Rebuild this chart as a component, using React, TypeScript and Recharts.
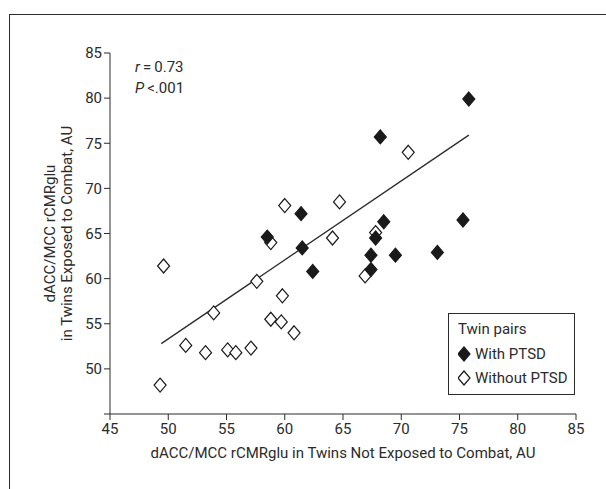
import React from "react";
import {
  ComposedChart,
  Scatter,
  XAxis,
  YAxis,
  ReferenceLine,
  Label,
  Customized,
} from "recharts";

// twin pairs with PTSD (filled diamonds)
const withPtsdX = [75.8, 68.2, 61.4, 58.5, 61.5, 62.4, 68.5, 67.8, 67.4, 67.4, 69.5, 73.1, 75.3];
const withPtsdY = [79.9, 75.7, 67.2, 64.6, 63.4, 60.8, 66.3, 64.5, 62.6, 61.0, 62.6, 62.9, 66.5];

// twin pairs without PTSD (open diamonds)
const withoutPtsdX = [49.6, 49.3, 51.5, 53.2, 53.9, 55.1, 55.8, 57.1, 57.6, 58.8, 58.8, 59.7, 59.8, 60.0, 60.8, 64.1, 64.7, 66.9, 70.6, 67.8];
const withoutPtsdY = [61.4, 48.2, 52.6, 51.8, 56.2, 52.1, 51.8, 52.3, 59.7, 64.0, 55.5, 55.2, 58.1, 68.1, 54.0, 64.5, 68.5, 60.3, 74.0, 65.1];

// regression line end points
const fitX = [49.4, 75.8];
const fitY = [52.8, 75.9];

const xTicks = [45, 50, 55, 60, 65, 70, 75, 80, 85];
const yTicks = [45, 50, 55, 60, 65, 70, 75, 80, 85];

const FONT = "Roboto, 'Liberation Sans', sans-serif";
const INK = "#2b2b2b";

const withData = withPtsdX.map((x, i) => ({ x, y: withPtsdY[i] }));
const withoutData = withoutPtsdX.map((x, i) => ({ x, y: withoutPtsdY[i] }));
const fitSegment = fitX.map((x, i) => ({ x, y: fitY[i] }));

function Diamond({ cx, cy, filled }: any) {
  const w = 6;
  const h = 7;
  return (
    <polygon
      points={`${cx},${cy - h} ${cx + w},${cy} ${cx},${cy + h} ${cx - w},${cy}`}
      fill={filled ? "#1a1a1a" : "#fff"}
      stroke="#1a1a1a"
      strokeWidth={1.2}
    />
  );
}

function YTitle({ viewBox }: any) {
  const { x, y, height } = viewBox;
  const cy = y + height / 2;
  return (
    <text
      transform={`translate(${x + 5}, ${cy}) rotate(-90)`}
      textAnchor="middle"
      fill={INK}
      fontFamily={FONT}
      fontSize={15}
    >
      <tspan x={0} dy={0}>dACC/MCC rCMRglu</tspan>
      <tspan x={0} dy={17}>in Twins Exposed to Combat, AU</tspan>
    </text>
  );
}

function Stats() {
  return (
    <g fontFamily={FONT} fontSize={15} fill={INK}>
      <text x={135} y={72}>
        <tspan fontStyle="italic">r</tspan>
        <tspan>{"\u2009=\u20090.73"}</tspan>
      </text>
      <text x={135} y={93}>
        <tspan fontStyle="italic">P</tspan>
        <tspan>{"\u2009<.001"}</tspan>
      </text>
    </g>
  );
}

function LegendBox() {
  const row = { display: "flex", alignItems: "center", height: 24 } as const;
  return (
    <div
      style={{
        position: "absolute",
        left: 448,
        top: 313,
        width: 127,
        height: 82,
        boxSizing: "border-box",
        border: `1.2px solid ${INK}`,
        padding: "1px 0 0 9px",
        fontFamily: FONT,
        fontSize: 15,
        color: INK,
        background: "#fff",
      }}
    >
      <div style={{ height: 27, display: "flex", alignItems: "center" }}>Twin pairs</div>
      <div style={row}>
        <svg width={14} height={16}>
          <Diamond cx={6} cy={8} filled />
        </svg>
        <span style={{ marginLeft: 3 }}>With PTSD</span>
      </div>
      <div style={row}>
        <svg width={14} height={16}>
          <Diamond cx={6} cy={8} />
        </svg>
        <span style={{ marginLeft: 3 }}>Without PTSD</span>
      </div>
    </div>
  );
}

export default function App() {
  return (
    <div style={{ position: "absolute", left: 0, top: 0, width: 606, height: 489, background: "#fff", overflow: "hidden" }}>
      <div
        style={{
          position: "absolute",
          left: 9,
          top: 14,
          right: -2,
          bottom: -2,
          borderTop: `1.5px solid ${INK}`,
          borderLeft: `1.5px solid ${INK}`,
        }}
      />
      <ComposedChart
        width={606}
        height={489}
        margin={{ top: 53, right: 30, bottom: 45, left: 50 }}
        style={{ position: "absolute", left: 0, top: 0 }}
      >
        <XAxis
          type="number"
          dataKey="x"
          domain={[45, 85]}
          ticks={xTicks}
          interval={0}
          height={30}
          tickSize={6}
          tickMargin={3}
          stroke={INK}
          tick={{ fill: INK, fontFamily: FONT, fontSize: 15 }}
          allowDataOverflow
        >
          <Label
            value="dACC/MCC rCMRglu in Twins Not Exposed to Combat, AU"
            position="insideBottom"
            offset={-14}
            fill={INK}
            fontFamily={FONT}
            fontSize={15}
          />
        </XAxis>
        <YAxis
          type="number"
          dataKey="y"
          domain={[45, 85]}
          ticks={yTicks}
          interval={0}
          width={60}
          tickSize={6}
          tickMargin={2}
          stroke={INK}
          tickFormatter={(v: number) => (v === 45 ? "" : String(v))}
          tick={{ fill: INK, fontFamily: FONT, fontSize: 15 }}
          allowDataOverflow
        >
          <Label content={YTitle} />
        </YAxis>
        <ReferenceLine segment={fitSegment} stroke={INK} strokeWidth={1.3} ifOverflow="visible" />
        <Scatter
          name="Without PTSD"
          data={withoutData}
          shape={(p: any) => <Diamond cx={p.cx} cy={p.cy} />}
          isAnimationActive={false}
        />
        <Scatter
          name="With PTSD"
          data={withData}
          shape={(p: any) => <Diamond cx={p.cx} cy={p.cy} filled />}
          isAnimationActive={false}
        />
        <Customized component={Stats} />
      </ComposedChart>
      <LegendBox />
    </div>
  );
}
